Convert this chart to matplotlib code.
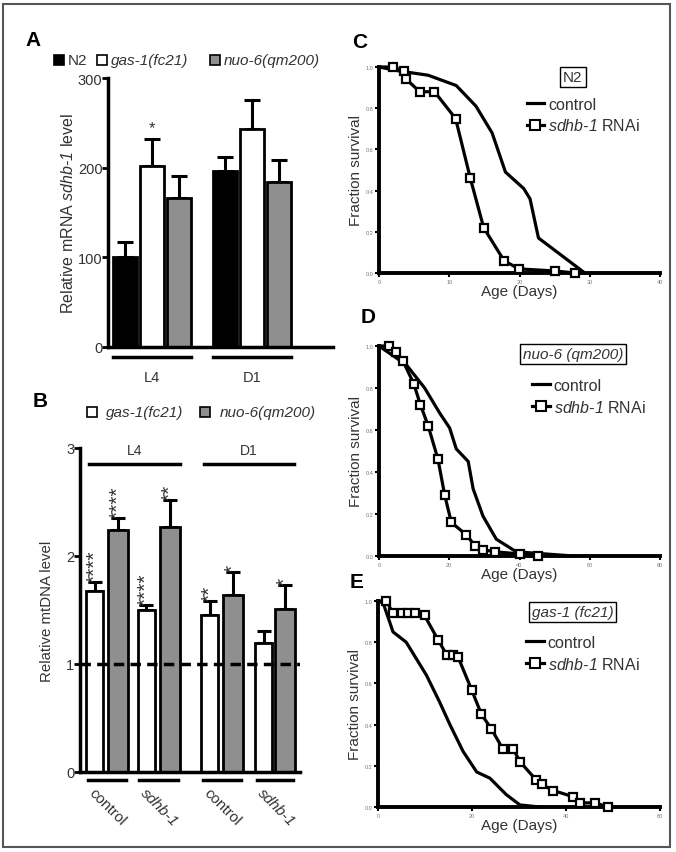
import matplotlib
matplotlib.use('Agg')
import matplotlib.pyplot as plt
from matplotlib.patches import Rectangle
from matplotlib.lines import Line2D
import numpy as np

plt.rcParams['font.family'] = 'Liberation Sans'
plt.rcParams['mathtext.fontset'] = 'custom'
plt.rcParams['mathtext.rm'] = 'Liberation Sans'
plt.rcParams['mathtext.sf'] = 'Liberation Sans:italic'

# Painel A: mRNA relativo de sdhb-1
stages_a = ['L4', 'D1']
strains_a = ['N2', 'gas-1(fc21)', 'nuo-6(qm200)']
mrna_l4 = [100, 202, 166]
mrna_l4_err = [17, 30, 25]
mrna_d1 = [196, 243, 184]
mrna_d1_err = [16, 32, 24]

# Painel B: mtDNA relativo
groups_b = ['control', 'sdhb-1', 'control', 'sdhb-1']
mtdna_gas1 = [1.68, 1.50, 1.45, 1.19]
mtdna_gas1_err = [0.08, 0.05, 0.13, 0.12]
mtdna_nuo6 = [2.24, 2.27, 1.64, 1.51]
mtdna_nuo6_err = [0.11, 0.25, 0.21, 0.22]
stars_gas1 = ['****', '****', '**', '']
stars_nuo6 = ['****', '**', '*', '*']

# Painel C: sobrevivencia N2
c_ctrl_day = [0, 3, 7, 11, 13.8, 16.1, 18, 20.6, 21.5, 22.7, 29.3]
c_ctrl_surv = [1.0, 0.98, 0.96, 0.91, 0.81, 0.68, 0.49, 0.41, 0.36, 0.17, 0.0]
c_rnai_day = [0, 2, 3.6, 3.9, 5.8, 7.9, 10.9, 13, 14.9, 17.8, 19.9, 25, 27.9]
c_rnai_surv = [1.0, 1.0, 0.98, 0.94, 0.88, 0.88, 0.75, 0.46, 0.22, 0.06, 0.02, 0.01, 0.0]

# Painel D: sobrevivencia nuo-6
d_ctrl_day = [0, 7.8, 13, 17.3, 20.1, 22, 25.4, 26.8, 29.6, 33.4, 39.1, 55.3]
d_ctrl_surv = [1.0, 0.91, 0.8, 0.68, 0.61, 0.51, 0.45, 0.32, 0.19, 0.08, 0.02, 0.0]
d_rnai_day = [0, 2.8, 4.9, 6.8, 9.9, 11.8, 14, 16.8, 18.7, 20.6, 24.9, 27.3, 29.6, 33, 40, 45.3]
d_rnai_surv = [1.0, 1.0, 0.97, 0.93, 0.82, 0.72, 0.62, 0.46, 0.29, 0.16, 0.10, 0.05, 0.03, 0.02, 0.01, 0.0]

# Painel E: sobrevivencia gas-1
e_ctrl_day = [0, 1.1, 3.2, 6, 10.3, 13.1, 15.3, 18.1, 21, 23.8, 27.3, 30.2, 34.4]
e_ctrl_surv = [1.0, 0.99, 0.85, 0.8, 0.64, 0.51, 0.4, 0.27, 0.17, 0.14, 0.06, 0.01, 0.0]
e_rnai_day = [0, 1.8, 3.2, 5, 6.4, 7.8, 9.9, 12.8, 14.6, 16, 17, 19.9, 22, 24.1, 26.6, 28.8,
              30.2, 33.7, 34.8, 37.3, 41.5, 43, 46.2, 49]
e_rnai_surv = [1.0, 1.0, 0.94, 0.94, 0.94, 0.94, 0.93, 0.81, 0.74, 0.74, 0.73, 0.57, 0.45, 0.38,
               0.28, 0.28, 0.22, 0.13, 0.11, 0.08, 0.05, 0.02, 0.02, 0.0]

W, H = 676, 853
fig = plt.figure(figsize=(W / 100, H / 100), dpi=100)
TXT = '#333333'
GRAY = '#8f8f8f'


def caixa(l, t, r, b):
    return [l / W, 1 - b / H, (r - l) / W, (b - t) / H]


def eixos_base(ax, lw=2.5):
    for s in ['top', 'right']:
        ax.spines[s].set_visible(False)
    for s in ['left', 'bottom']:
        ax.spines[s].set_linewidth(lw)


def legenda_manual(itens, y, fs=11):
    # quadradinhos + texto, posicoes em pixels da figura
    for x_q, x_t, cor, nome, italico in itens:
        fig.patches.append(Rectangle((x_q / W, 1 - (y + 5) / H), 10 / W, 10 / H,
                                     transform=fig.transFigure, facecolor=cor,
                                     edgecolor='black', lw=1.2))
        fig.text(x_t / W, 1 - y / H, nome, fontsize=fs, color=TXT, va='center', ha='left',
                 style='italic' if italico else 'normal')


# moldura da figura
fig.patches.append(Rectangle((3 / W, 5 / H), 667 / W, 843 / H, transform=fig.transFigure,
                             fill=False, edgecolor='#555555', lw=1.5))

# ---------------- A ----------------
axA = fig.add_axes(caixa(108, 79, 333, 348))
eixos_base(axA)
pos_l4 = np.arange(3)
pos_d1 = np.arange(3) + 3.7
cores = ['black', 'white', GRAY]
for pos, vals, errs in [(pos_l4, mrna_l4, mrna_l4_err), (pos_d1, mrna_d1, mrna_d1_err)]:
    axA.bar(pos, vals, width=0.9, color=cores, edgecolor='black', linewidth=2, zorder=2)
    axA.errorbar(pos, vals, yerr=[np.zeros(3), errs], fmt='none', ecolor='black',
                 elinewidth=2.2, capsize=6, capthick=2.2, zorder=1)
axA.text(pos_l4[1], mrna_l4[1] + mrna_l4_err[1] + 4, '*', ha='center', va='bottom',
         fontsize=12, color=TXT)
axA.set_xlim(-0.63, 7.7)
axA.set_ylim(0, 300)
axA.set_yticks([0, 100, 200, 300])
axA.tick_params(axis='y', labelsize=10.5, width=2, length=4, colors='black', labelcolor=TXT, pad=0)
axA.set_xticks([])
axA.set_ylabel('Relative mRNA $\\mathsf{sdhb‐1}$ level', fontsize=11.5, color=TXT, labelpad=1)
tr = axA.get_xaxis_transform()
for pos, nome in [(pos_l4, stages_a[0]), (pos_d1, stages_a[1])]:
    axA.plot([pos[0] - 0.45, pos[-1] + 0.45], [-0.037, -0.037], color='black', lw=2.5,
             transform=tr, clip_on=False)
    axA.text(pos.mean(), -0.11, nome, transform=tr, ha='center', va='center', fontsize=10.5,
             color=TXT)
legenda_manual([(54, 68, 'black', strains_a[0], False),
                (97, 111, 'white', strains_a[1], True),
                (210, 224, GRAY, strains_a[2], True)], 61)
fig.text(33 / W, 1 - 40 / H, 'A', fontsize=15, fontweight='bold', ha='center', va='center')

# ---------------- B ----------------
axB = fig.add_axes(caixa(80, 449, 300, 773))
eixos_base(axB)
pos_gas = np.array([0, 2.2, 4.9, 7.2])
pos_nuo = np.array([1, 3.2, 5.9, 8.1])
axB.bar(pos_gas, mtdna_gas1, width=0.72, color='white', edgecolor='black', linewidth=2, zorder=2)
axB.bar(pos_nuo, mtdna_nuo6, width=0.85, color=GRAY, edgecolor='black', linewidth=2, zorder=2)
axB.errorbar(pos_gas, mtdna_gas1, yerr=[np.zeros(4), mtdna_gas1_err], fmt='none', ecolor='black',
             elinewidth=2.2, capsize=5, capthick=2.2, zorder=1)
axB.errorbar(pos_nuo, mtdna_nuo6, yerr=[np.zeros(4), mtdna_nuo6_err], fmt='none', ecolor='black',
             elinewidth=2.2, capsize=5, capthick=2.2, zorder=1)
for pos, vals, errs, st in [(pos_gas, mtdna_gas1, mtdna_gas1_err, stars_gas1),
                             (pos_nuo, mtdna_nuo6, mtdna_nuo6_err, stars_nuo6)]:
    for p, v, e, s in zip(pos, vals, errs, st):
        if s:
            axB.text(p, v + e + 0.0, s, rotation=90, ha='center', va='bottom', fontsize=15,
                     color=TXT)
axB.axhline(1, color='black', lw=2.5, ls=(0, (3, 1.8)), zorder=3)
axB.set_xlim(-0.62, 8.74)
axB.set_ylim(0, 3)
axB.set_yticks([0, 1, 2, 3])
axB.tick_params(axis='y', labelsize=10.5, width=2, length=4, labelcolor=TXT, pad=0)
axB.set_xticks([])
axB.set_ylabel('Relative mtDNA level', fontsize=10.8, color=TXT, labelpad=9)
axB.plot([-0.23, 3.64], [2.85, 2.85], color='black', lw=2.5, clip_on=False)
axB.plot([4.66, 8.49], [2.85, 2.85], color='black', lw=2.5, clip_on=False)
axB.text(1.7, 2.92, 'L4', ha='center', va='bottom', fontsize=10, color=TXT)
axB.text(6.55, 2.92, 'D1', ha='center', va='bottom', fontsize=10, color=TXT)
trB = axB.get_xaxis_transform()
for pg, pn, nome in zip(pos_gas, pos_nuo, groups_b):
    axB.plot([pg - 0.3, pn + 0.35], [-0.026, -0.026], color='black', lw=2.5, transform=trB,
             clip_on=False)
    axB.text(pg + 0.05, -0.04, nome, rotation=-45, ha='left', va='top', fontsize=11,
             color=TXT, transform=trB, rotation_mode='anchor',
             style='italic' if nome != 'control' else 'normal')
legenda_manual([(87, 106, 'white', strains_a[1], True),
                (200, 220, GRAY, strains_a[2], True)], 413)
fig.text(40 / W, 1 - 402 / H, 'B', fontsize=15, fontweight='bold', ha='center', va='center')

# ---------------- C, D, E ----------------
paineis = [
    ('C', caixa(379, 68, 660, 274), 40, [0, 10, 20, 30, 40], c_ctrl_day, c_ctrl_surv,
     c_rnai_day, c_rnai_surv, 'N2', 0.95, (0.525, 0.855), (360, 43)),
    ('D', caixa(379, 347, 660, 557), 80, [0, 20, 40, 60, 80], d_ctrl_day, d_ctrl_surv,
     d_rnai_day, d_rnai_surv, 'nuo-6 (qm200)', 0.962, (0.545, 0.848), (368, 318)),
    ('E', caixa(378, 602, 660, 808), 60, [0, 20, 40, 60], e_ctrl_day, e_ctrl_surv,
     e_rnai_day, e_rnai_surv, 'gas-1 (fc21)', 0.947, (0.525, 0.835), (357, 583)),
]
for letra, rect, xmax, xt, cx, cy, rx, ry, caixa_txt, y_cx, leg_pos, letra_pos in paineis:
    ax = fig.add_axes(rect)
    eixos_base(ax, lw=2.8)
    ax.plot(cx, cy, color='black', lw=2.3, clip_on=False, zorder=3)
    ax.plot(rx, ry, color='black', lw=2.3, marker='s', markersize=5.5, markerfacecolor='white',
            markeredgewidth=1.6, markevery=list(range(1, len(rx))), clip_on=False, zorder=4)
    ax.set_xlim(0, xmax)
    ax.set_ylim(0, 1)
    ax.set_xticks(xt)
    ax.set_xticklabels([str(v) for v in xt])
    ax.set_yticks([0, 0.2, 0.4, 0.6, 0.8, 1.0])
    ax.set_yticklabels(['0.0', '0.2', '0.4', '0.6', '0.8', '1.0'])
    ax.tick_params(labelsize=4, width=1.5, length=3, labelcolor='#777777', pad=1)
    ax.set_xlabel('Age (Days)', fontsize=11, color=TXT, labelpad=0)
    ax.set_ylabel('Fraction survival', fontsize=11, color=TXT, labelpad=2)
    ax.text(0.69, y_cx, caixa_txt, transform=ax.transAxes, ha='center', va='center', fontsize=11,
            color=TXT, style='normal' if caixa_txt == 'N2' else 'italic',
            bbox=dict(boxstyle='square,pad=0.2', facecolor='white', edgecolor='black',
                      linewidth=1))
    hs = [Line2D([], [], color='black', lw=2.3),
          Line2D([], [], color='black', lw=2.3, marker='s', markersize=6.5,
                 markerfacecolor='white', markeredgewidth=1.5)]
    leg = ax.legend(hs, ['control', '$\\mathsf{sdhb‐1}$ RNAi'], loc='upper left',
                    bbox_to_anchor=leg_pos, frameon=False, handlelength=1.1, handletextpad=0.25,
                    borderpad=0, borderaxespad=0, labelspacing=0.35, fontsize=11.5)
    for t in leg.get_texts():
        t.set_color(TXT)
    fig.text(letra_pos[0] / W, 1 - letra_pos[1] / H, letra, fontsize=15, fontweight='bold',
             ha='center', va='center')

fig.savefig('out.png', dpi=100)
